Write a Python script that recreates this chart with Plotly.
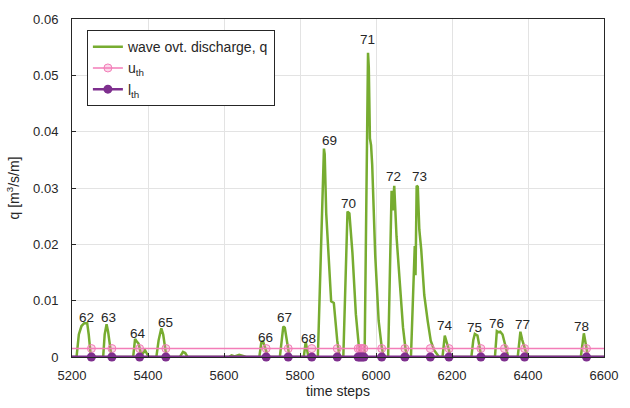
import plotly.graph_objects as go

# green series: wave overtopping discharge
t_q = [5200, 5212, 5218, 5225, 5232, 5240, 5244, 5249, 5252,
       5282, 5286, 5291, 5295, 5300, 5304,
       5361, 5366, 5370, 5375, 5380, 5385, 5392, 5398, 5402,
       5422, 5428, 5435, 5440, 5446, 5450,
       5484, 5492, 5498, 5504,
       5612, 5620, 5628, 5640, 5650, 5658,
       5693, 5698, 5702, 5706, 5712, 5716,
       5747, 5752, 5756, 5760, 5765, 5770, 5775,
       5810, 5815, 5818, 5822,
       5847, 5853, 5860, 5863, 5865, 5869, 5882, 5889, 5898, 5904,
       5914, 5920, 5925, 5930, 5938, 5947, 5955, 5960, 5965,
       5970, 5976, 5979, 5981, 5984, 5987, 5990, 5998, 6007, 6015, 6020,
       6032, 6038, 6041, 6044, 6048, 6054, 6063, 6071, 6078, 6084,
       6092, 6100, 6102, 6104, 6107, 6110, 6114, 6119, 6127, 6136, 6144, 6153, 6166,
       6175, 6181, 6187, 6193, 6197,
       6251, 6256, 6260, 6267, 6272, 6277,
       6313, 6318, 6323, 6327, 6333, 6342, 6348,
       6373, 6380, 6385, 6394, 6402,
       6539, 6547, 6553, 6558, 6600]
q = [0, 0, 0.004, 0.0055, 0.006, 0.006, 0.004, 0.0005, 0,
     0, 0.004, 0.0058, 0.0045, 0.0015, 0,
     0, 0.0032, 0.0028, 0.0024, 0.001, 0.0005, 0.0012, 0.0004, 0,
     0, 0.003, 0.0051, 0.004, 0.0012, 0,
     0, 0.0009, 0.0007, 0,
     0, 0.0003, 0.0001, 0.0004, 0.0002, 0,
     0, 0.0025, 0.0029, 0.002, 0.0008, 0,
     0, 0.003, 0.0054, 0.0052, 0.003, 0.001, 0,
     0, 0.0027, 0.0018, 0,
     0, 0.0157, 0.034, 0.037, 0.036, 0.0255, 0.0099, 0.0096, 0.0029, 0,
     0, 0.015, 0.0258, 0.0255, 0.0185, 0.0076, 0.0018, 0, 0.0005,
     0, 0.03, 0.0540, 0.0515, 0.0388, 0.0376, 0.0341, 0.018, 0.0064, 0.0018, 0,
     0, 0.02, 0.0295, 0.026, 0.0304, 0.0214, 0.0122, 0.0053, 0.0012, 0,
     0, 0.015, 0.0197, 0.0145, 0.0304, 0.0302, 0.0226, 0.0191, 0.011, 0.0064, 0.0029, 0.0012, 0,
     0, 0.0038, 0.0024, 0.0008, 0,
     0, 0.003, 0.0041, 0.0038, 0.002, 0,
     0, 0.0046, 0.0044, 0.0045, 0.004, 0.0016, 0,
     0, 0.0045, 0.003, 0.001, 0,
     0, 0.0042, 0.002, 0, 0]

# thresholds
u_th = 0.0015
l_th = 0.0
t_range = [5200, 6600]
marker_t = [5251, 5305, 5378, 5447, 5711, 5769, 5831, 5898, 5953, 5958, 5963,
            5968, 6015, 6076, 6143, 6192, 6276, 6338, 6391, 6554]

# event labels
label_text = ["62", "63", "64", "65", "66", "67", "68", "69", "70", "71", "72",
              "73", "74", "75", "76", "77", "78"]
label_t = [5238, 5296, 5373, 5447, 5710, 5760, 5822, 5878, 5927, 5977, 6047,
           6114, 6181, 6258, 6318, 6385, 6541]
label_q = [0.0070, 0.0070, 0.0042, 0.0062, 0.0034, 0.0070, 0.0032, 0.0385,
           0.0273, 0.0563, 0.0320, 0.0321, 0.0056, 0.0053, 0.0059, 0.0057, 0.0054]

GREEN = "#77AC30"
PINK = "#F37DB8"
PURPLE = "#7E2F8E"
FONT = "Liberation Sans, Arial, sans-serif"
TXT = "#262626"

fig = go.Figure()
fig.add_trace(go.Scatter(x=t_q, y=q, mode="lines", line=dict(color=GREEN, width=2.5),
                         name="wave ovt. discharge, q"))
# u_th line + markers
fig.add_trace(go.Scatter(x=t_range, y=[u_th, u_th], mode="lines",
                         line=dict(color=PINK, width=1.5), showlegend=False))
fig.add_trace(go.Scatter(x=marker_t, y=[u_th] * len(marker_t), mode="markers",
                         marker=dict(symbol="circle", size=8, color="rgba(243,125,184,0.3)",
                                     line=dict(color=PINK, width=1)),
                         showlegend=False, cliponaxis=False))
fig.add_trace(go.Scatter(x=[None], y=[None], mode="lines+markers", name="u<sub>th</sub>",
                         line=dict(color=PINK, width=1.5),
                         marker=dict(symbol="circle", size=8, color="rgba(243,125,184,0.3)",
                                     line=dict(color=PINK, width=1))))
# l_th line + markers
fig.add_trace(go.Scatter(x=t_range, y=[l_th, l_th], mode="lines",
                         line=dict(color=PURPLE, width=3), showlegend=False,
                         cliponaxis=False))
fig.add_trace(go.Scatter(x=marker_t, y=[l_th] * len(marker_t), mode="markers",
                         marker=dict(symbol="circle", size=9, color=PURPLE),
                         showlegend=False, cliponaxis=False))
fig.add_trace(go.Scatter(x=[None], y=[None], mode="lines+markers", name="l<sub>th</sub>",
                         line=dict(color=PURPLE, width=2.5),
                         marker=dict(symbol="circle", size=9, color=PURPLE)))

for txt, tx, ty in zip(label_text, label_t, label_q):
    fig.add_annotation(x=tx, y=ty, text=txt, showarrow=False,
                       font=dict(family=FONT, size=13.5, color=TXT),
                       xanchor="center", yanchor="middle")

axis_common = dict(showgrid=True, gridcolor="#E3E3E3", gridwidth=1,
                   showline=True, linecolor="#262626", linewidth=1, mirror=True,
                   ticks="inside", ticklen=4, tickcolor="#262626",
                   tickfont=dict(family=FONT, size=13, color=TXT), zeroline=False)

fig.update_layout(
    width=630, height=408,
    margin=dict(l=72, r=15, t=14, b=51),
    paper_bgcolor="white", plot_bgcolor="white",
    xaxis=dict(range=[5200, 6600], tickvals=[5200, 5400, 5600, 5800, 6000, 6200, 6400, 6600],
               ticklabelstandoff=6,
               title=dict(text="time steps", font=dict(family=FONT, size=14, color=TXT), standoff=4),
               **axis_common),
    yaxis=dict(range=[0, 0.06], tickvals=[0, 0.01, 0.02, 0.03, 0.04, 0.05, 0.06],
               ticktext=["0", "0.01", "0.02", "0.03", "0.04", "0.05", "0.06"],
               ticklabelstandoff=10,
               title=dict(text="q [m<sup>3</sup>/s/m]", font=dict(family=FONT, size=14, color=TXT), standoff=10),
               **axis_common),
    legend=dict(x=0.028, y=0.967, xanchor="left", yanchor="top",
                bgcolor="white", bordercolor="#262626", borderwidth=1,
                font=dict(family=FONT, size=14, color=TXT),
                itemwidth=30, tracegroupgap=0),
    showlegend=True,
)

fig.write_html("out.html")
